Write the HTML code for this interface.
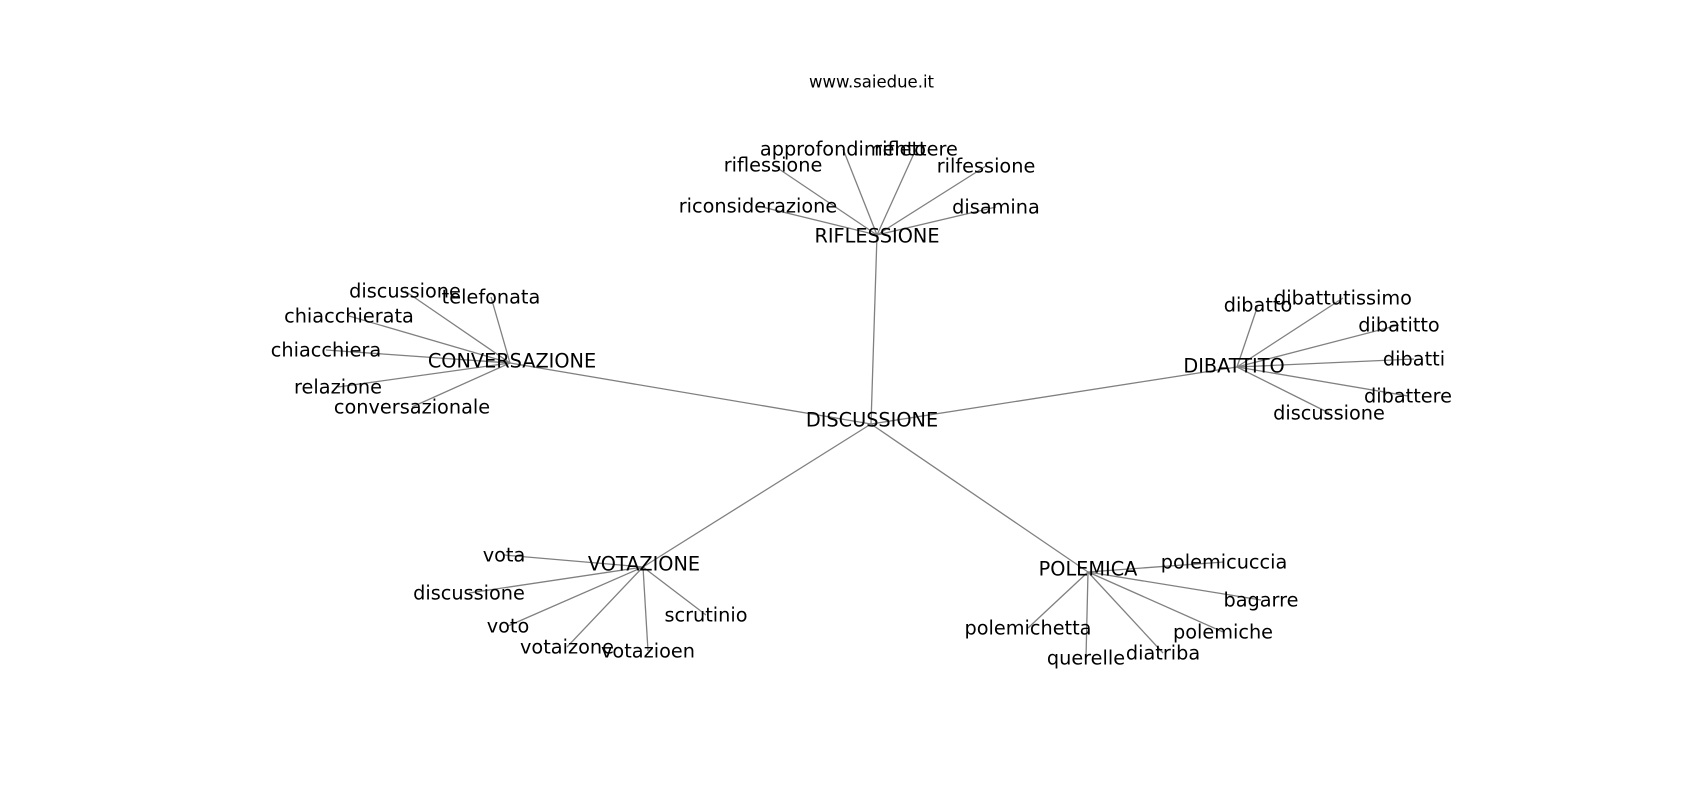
<!DOCTYPE html>
<html><head><meta charset="utf-8"><style>
html,body{margin:0;padding:0;background:#fff;}
svg{display:block;}
text{font-family:"DejaVu Sans","Liberation Sans",sans-serif;fill:#000;}
</style></head><body>
<svg width="1700" height="800" viewBox="0 0 1700 800" xmlns="http://www.w3.org/2000/svg">
<rect width="1700" height="800" fill="#fff"/>
<g stroke="#808080" stroke-width="1.3">
<line x1="871" y1="424" x2="877" y2="235"/>
<line x1="871" y1="424" x2="510" y2="363"/>
<line x1="871" y1="424" x2="1237" y2="367"/>
<line x1="871" y1="424" x2="643" y2="567"/>
<line x1="871" y1="424" x2="1088" y2="572"/>
<line x1="877" y1="235" x2="843" y2="149"/>
<line x1="877" y1="235" x2="916" y2="149"/>
<line x1="877" y1="235" x2="773" y2="165"/>
<line x1="877" y1="235" x2="986" y2="166"/>
<line x1="877" y1="235" x2="758" y2="206"/>
<line x1="877" y1="235" x2="996" y2="207"/>
<line x1="510" y1="363" x2="405" y2="291"/>
<line x1="510" y1="363" x2="491" y2="297"/>
<line x1="510" y1="363" x2="349" y2="316"/>
<line x1="510" y1="363" x2="326" y2="350"/>
<line x1="510" y1="363" x2="338" y2="387"/>
<line x1="510" y1="363" x2="412" y2="407"/>
<line x1="1237" y1="367" x2="1258" y2="305"/>
<line x1="1237" y1="367" x2="1343" y2="298"/>
<line x1="1237" y1="367" x2="1399" y2="325"/>
<line x1="1237" y1="367" x2="1414" y2="359"/>
<line x1="1237" y1="367" x2="1408" y2="396"/>
<line x1="1237" y1="367" x2="1329" y2="413"/>
<line x1="643" y1="567" x2="504" y2="555"/>
<line x1="643" y1="567" x2="469" y2="593"/>
<line x1="643" y1="567" x2="508" y2="626"/>
<line x1="643" y1="567" x2="567" y2="647"/>
<line x1="643" y1="567" x2="648" y2="651"/>
<line x1="643" y1="567" x2="706" y2="615"/>
<line x1="1088" y1="572" x2="1224" y2="562"/>
<line x1="1088" y1="572" x2="1261" y2="600"/>
<line x1="1088" y1="572" x2="1223" y2="632"/>
<line x1="1088" y1="572" x2="1163" y2="653"/>
<line x1="1088" y1="572" x2="1086" y2="658"/>
<line x1="1088" y1="572" x2="1028" y2="628"/>
</g>
<g font-size="19.3" text-anchor="middle" dominant-baseline="central">
<text x="872" y="420">DISCUSSIONE</text>
<text x="877" y="236">RIFLESSIONE</text>
<text x="512" y="361">CONVERSAZIONE</text>
<text x="1234" y="366">DIBATTITO</text>
<text x="644" y="564">VOTAZIONE</text>
<text x="1088" y="569">POLEMICA</text>
<text x="843" y="149">approfondimento</text>
<text x="916" y="149">riflettere</text>
<text x="773" y="165">riflessione</text>
<text x="986" y="166">rilfessione</text>
<text x="758" y="206">riconsiderazione</text>
<text x="996" y="207">disamina</text>
<text x="405" y="291">discussione</text>
<text x="491" y="297">telefonata</text>
<text x="349" y="316">chiacchierata</text>
<text x="326" y="350">chiacchiera</text>
<text x="338" y="387">relazione</text>
<text x="412" y="407">conversazionale</text>
<text x="1258" y="305">dibatto</text>
<text x="1343" y="298">dibattutissimo</text>
<text x="1399" y="325">dibatitto</text>
<text x="1414" y="359">dibatti</text>
<text x="1408" y="396">dibattere</text>
<text x="1329" y="413">discussione</text>
<text x="504" y="555">vota</text>
<text x="469" y="593">discussione</text>
<text x="508" y="626">voto</text>
<text x="567" y="647">votaizone</text>
<text x="648" y="651">votazioen</text>
<text x="706" y="615">scrutinio</text>
<text x="1224" y="562">polemicuccia</text>
<text x="1261" y="600">bagarre</text>
<text x="1223" y="632">polemiche</text>
<text x="1163" y="653">diatriba</text>
<text x="1086" y="658">querelle</text>
<text x="1028" y="628">polemichetta</text>
</g>
<text x="871.5" y="82" font-size="16.5" text-anchor="middle" dominant-baseline="central">www.saiedue.it</text>
</svg>
</body></html>
